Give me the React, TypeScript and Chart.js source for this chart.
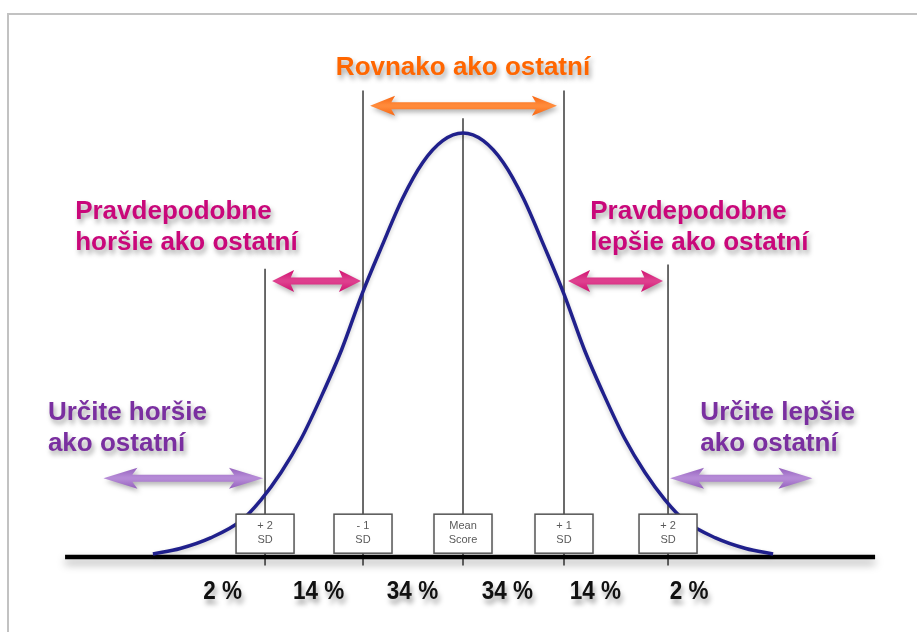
import React, { useEffect, useRef } from "react";
import { Chart, registerables } from "chart.js";

Chart.register(...registerables);

// Normal curve (x in SD units, height relative to peak)
const CURVE_Z = [-3.07, -2.8, -2.5, -2.2, -2.0, -1.8, -1.6, -1.4, -1.2, -1.0, -0.8, -0.6, -0.4, -0.2, 0, 0.2, 0.4, 0.6, 0.8, 1.0, 1.2, 1.4, 1.6, 1.8, 2.0, 2.2, 2.5, 2.8, 3.07];
const CURVE_H = [0.007, 0.02, 0.045, 0.085, 0.135, 0.2, 0.28, 0.38, 0.49, 0.62, 0.735, 0.845, 0.93, 0.982, 1.0, 0.982, 0.93, 0.845, 0.735, 0.62, 0.49, 0.38, 0.28, 0.2, 0.135, 0.085, 0.045, 0.02, 0.007];

// Vertical SD markers
const SD_POS = [-1.96, -0.99, 0, 1.0, 2.03];
const SD_TOP = [0.68, 1.1, 1.035, 1.1, 0.69];
const SD_LABEL_1 = ["+ 2", "- 1", "Mean", "+ 1", "+ 2"];
const SD_LABEL_2 = ["SD", "SD", "Score", "SD", "SD"];

// Percentages under the axis
const PCT_LABELS = ["2 %", "14 %", "34 %", "34 %", "14 %", "2 %"];
const PCT_POS = [-2.38, -1.43, -0.5, 0.44, 1.31, 2.24];

// Baseline extent
const BASE_FROM = -3.94;
const BASE_TO = 4.08;

const FONT = '"Liberation Sans", Arial, Helvetica, sans-serif';
const ORANGE = "#ff6600";
const MAGENTA = "#c9077a";
const PURPLE = "#7a2fa0";

function drawArrow(ctx: CanvasRenderingContext2D, x1: number, x2: number, y: number, color: string, light: string, shaft: number, headLen: number, headHalf: number) {
  ctx.save();
  ctx.shadowColor = "rgba(0,0,0,0.3)";
  ctx.shadowBlur = 5;
  ctx.shadowOffsetX = 2;
  ctx.shadowOffsetY = 3;
  const g = ctx.createLinearGradient(0, y - headHalf, 0, y + headHalf);
  g.addColorStop(0, color);
  g.addColorStop(0.45, light);
  g.addColorStop(0.55, light);
  g.addColorStop(1, color);
  ctx.fillStyle = g;
  ctx.beginPath();
  ctx.moveTo(x1, y);
  ctx.lineTo(x1 + headLen, y - headHalf);
  ctx.lineTo(x1 + headLen * 0.85, y - shaft / 2);
  ctx.lineTo(x2 - headLen * 0.85, y - shaft / 2);
  ctx.lineTo(x2 - headLen, y - headHalf);
  ctx.lineTo(x2, y);
  ctx.lineTo(x2 - headLen, y + headHalf);
  ctx.lineTo(x2 - headLen * 0.85, y + shaft / 2);
  ctx.lineTo(x1 + headLen * 0.85, y + shaft / 2);
  ctx.lineTo(x1 + headLen, y + headHalf);
  ctx.closePath();
  ctx.fill();
  ctx.restore();
}

function shadowText(ctx: CanvasRenderingContext2D, lines: string[], x: number, y: number, color: string, align: CanvasTextAlign, lh: number) {
  ctx.save();
  ctx.font = "bold 26px " + FONT;
  ctx.fillStyle = color;
  ctx.textAlign = align;
  ctx.textBaseline = "middle";
  ctx.shadowColor = "rgba(0,0,0,0.35)";
  ctx.shadowBlur = 5;
  ctx.shadowOffsetX = 2;
  ctx.shadowOffsetY = 4;
  lines.forEach((l, i) => ctx.fillText(l, x, y + i * lh));
  ctx.restore();
}

const annotPlugin = {
  id: "annot",
  beforeDraw(chart: any) {
    const ctx = chart.ctx as CanvasRenderingContext2D;
    ctx.save();
    ctx.fillStyle = "#ffffff";
    ctx.fillRect(0, 0, chart.width, chart.height);
    ctx.strokeStyle = "#c2c2c2";
    ctx.lineWidth = 2;
    ctx.beginPath();
    ctx.moveTo(8, chart.height);
    ctx.lineTo(8, 14);
    ctx.lineTo(chart.width, 14);
    ctx.stroke();
    ctx.restore();
  },
  beforeDatasetDraw(chart: any, args: any) {
    const ds = chart.data.datasets[args.index];
    const ctx = chart.ctx as CanvasRenderingContext2D;
    ctx.save();
    if (ds.label === "baseline") {
      ctx.shadowColor = "rgba(0,0,0,0.35)";
      ctx.shadowBlur = 8;
      ctx.shadowOffsetY = 5;
    } else if (ds.label === "curve") {
      ctx.shadowColor = "rgba(0,0,0,0.2)";
      ctx.shadowBlur = 4;
      ctx.shadowOffsetY = 2;
    }
  },
  afterDatasetDraw(chart: any) {
    chart.ctx.restore();
  },
  afterDatasetsDraw(chart: any) {
    const ctx = chart.ctx as CanvasRenderingContext2D;
    const xs = chart.scales.x;
    const ys = chart.scales.y;
    const px = (v: number) => xs.getPixelForValue(v);
    const py = (v: number) => ys.getPixelForValue(v);

    // SD boxes
    SD_POS.forEach((z, i) => {
      const cx = px(z);
      const top = py(0.101);
      const bot = py(0.009);
      const w = 58;
      ctx.save();
      ctx.shadowColor = "rgba(0,0,0,0.15)";
      ctx.shadowBlur = 3;
      ctx.fillStyle = "#ffffff";
      ctx.fillRect(cx - w / 2, top, w, bot - top);
      ctx.restore();
      ctx.save();
      ctx.strokeStyle = "#555555";
      ctx.lineWidth = 1.5;
      ctx.strokeRect(cx - w / 2, top, w, bot - top);
      ctx.fillStyle = "#5a5a5a";
      ctx.font = "11px " + FONT;
      ctx.textAlign = "center";
      ctx.textBaseline = "middle";
      ctx.fillText(SD_LABEL_1[i], cx, top + 12);
      ctx.fillText(SD_LABEL_2[i], cx, top + 26);
      ctx.restore();
    });

    // Percentages
    ctx.save();
    ctx.font = "bold 25px " + FONT;
    ctx.fillStyle = "#111111";
    ctx.textAlign = "center";
    ctx.textBaseline = "middle";
    ctx.shadowColor = "rgba(0,0,0,0.35)";
    ctx.shadowBlur = 5;
    ctx.shadowOffsetX = 2;
    ctx.shadowOffsetY = 5;
    PCT_LABELS.forEach((t, i) => {
      ctx.save();
      const x = px(PCT_POS[i]);
      ctx.translate(x, py(-0.083));
      ctx.scale(0.9, 1);
      ctx.fillText(t, 0, 0);
      ctx.restore();
    });
    ctx.restore();

    // Title + arrows
    shadowText(ctx, ["Rovnako ako ostatní"], px(0), py(1.153), ORANGE, "center", 31);
    drawArrow(ctx, px(-0.92), px(0.93), py(1.064), "#f86510", "#ff8a3a", 7, 25, 10);

    shadowText(ctx, ["Pravdepodobne", "horšie ako ostatní"], px(-3.84), py(0.813), MAGENTA, "left", 31);
    shadowText(ctx, ["Pravdepodobne", "lepšie ako ostatní"], px(1.26), py(0.813), MAGENTA, "left", 31);
    drawArrow(ctx, px(-1.89), px(-1.01), py(0.651), "#d0106f", "#de3f8e", 7, 22, 11);
    drawArrow(ctx, px(1.04), px(1.98), py(0.651), "#d0106f", "#de3f8e", 7, 22, 11);

    shadowText(ctx, ["Určite horšie", "ako ostatní"], px(-4.11), py(0.34), PURPLE, "left", 31);
    shadowText(ctx, ["Určite lepšie", "ako ostatní"], px(2.35), py(0.34), PURPLE, "left", 31);
    drawArrow(ctx, px(-3.56), px(-1.98), py(0.186), "#9460bd", "#b58ad6", 7, 34, 10.5);
    drawArrow(ctx, px(2.05), px(3.46), py(0.186), "#9460bd", "#b58ad6", 7, 34, 10.5);
  },
};

export default function App() {
  const ref = useRef<HTMLCanvasElement | null>(null);
  useEffect(() => {
    if (!ref.current) return;
    const W = 917, H = 632;
    const X0 = 463, SD = 101, BASE_Y = 557, PEAK = 424;
    const datasets: any[] = [
      {
        label: "curve",
        data: CURVE_Z.map((z, i) => ({ x: z, y: CURVE_H[i] })),
        borderColor: "#20208c",
        borderWidth: 3.5,
        pointRadius: 0,
        cubicInterpolationMode: "monotone",
        clip: false,
        order: 0,
      },
      {
        label: "baseline",
        data: [{ x: BASE_FROM, y: 0 }, { x: BASE_TO, y: 0 }],
        borderColor: "#000000",
        borderWidth: 4.5,
        pointRadius: 0,
        clip: false,
        order: 1,
      },
      ...SD_POS.map((z, i) => ({
        label: "sd" + i,
        data: [{ x: z, y: -0.02 }, { x: z, y: SD_TOP[i] }],
        borderColor: "#3a3a3a",
        borderWidth: 1.5,
        pointRadius: 0,
        clip: false,
        order: 2,
      })),
    ];
    const chart = new Chart(ref.current, {
      type: "line",
      data: { datasets },
      options: {
        animation: false,
        responsive: false,
        maintainAspectRatio: false,
        layout: { padding: 0 },
        plugins: { legend: { display: false }, tooltip: { enabled: false } },
        scales: {
          x: { type: "linear", display: false, min: (0 - X0) / SD, max: (W - X0) / SD },
          y: { type: "linear", display: false, min: (BASE_Y - H) / PEAK, max: BASE_Y / PEAK },
        },
      },
      plugins: [annotPlugin],
    } as any);
    return () => chart.destroy();
  }, []);
  return (
    <div style={{ position: "absolute", left: 0, top: 0, width: 917, height: 632 }}>
      <canvas ref={ref} width={917} height={632} style={{ width: 917, height: 632, display: "block" }} />
    </div>
  );
}
